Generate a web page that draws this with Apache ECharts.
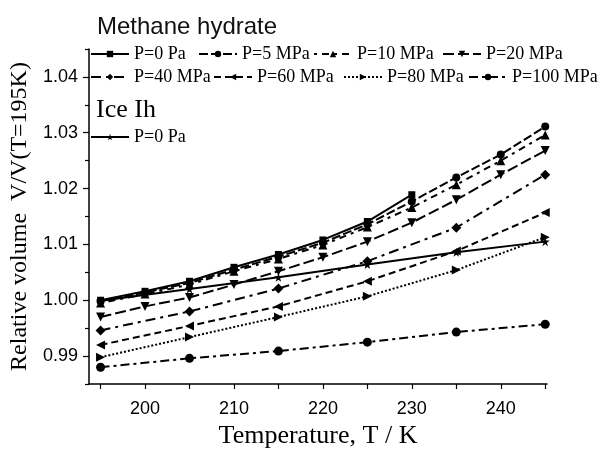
<!DOCTYPE html>
<html>
<head>
<meta charset="utf-8">
<script src="https://cdn.jsdelivr.net/npm/echarts@6/dist/echarts.min.js"></script>
<style>
html,body{margin:0;padding:0;background:#fff;}
#chart{width:605px;height:459px;}
</style>
</head>
<body>
<div id="chart"></div>
<script>
// Temperatures (K)
const temps5 = [195, 200, 205, 210, 215, 220, 225, 230, 235, 240, 245];
const temps10 = [195, 205, 215, 225, 235, 245];
const tempsP0 = [195, 200, 205, 210, 215, 220, 225, 230];

// Methane hydrate relative volume
const hydP0   = [1.0000, 1.0016, 1.0034, 1.0059, 1.0082, 1.0108, 1.0141, 1.0189];
const hydP5   = [0.9998, 1.0014, 1.0031, 1.0055, 1.0078, 1.0103, 1.0136, 1.0177, 1.0220, 1.0261, 1.0311];
const hydP10  = [0.9995, 1.0011, 1.0028, 1.0052, 1.0074, 1.0099, 1.0131, 1.0166, 1.0207, 1.0250, 1.0296];
const hydP20  = [0.9970, 0.9989, 1.0005, 1.0028, 1.0052, 1.0077, 1.0105, 1.0139, 1.0180, 1.0225, 1.0268];
const hydP40  = [0.9946, 0.9980, 1.0021, 1.0070, 1.0130, 1.0225];
const hydP60  = [0.9920, 0.9954, 0.9989, 1.0034, 1.0088, 1.0157];
const hydP80  = [0.9898, 0.9934, 0.9970, 1.0007, 1.0054, 1.0113];
const hydP100 = [0.9880, 0.9896, 0.9909, 0.9925, 0.9943, 0.9957];

// Ice Ih relative volume
const iceP0 = [0.9999, 1.0020, 1.0041, 1.0064, 1.0086, 1.0105];

// Tick labels
const xLabelTicks = [200, 210, 220, 230, 240];
const xTicks = [195, 200, 205, 210, 215, 220, 225, 230, 235, 240, 245];
const yLabelTicks = [0.99, 1.00, 1.01, 1.02, 1.03, 1.04];
const yMinorTicks = [0.985, 0.995, 1.005, 1.015, 1.025, 1.035, 1.045];

const names = ['P=0 Pa', 'P=5 MPa', 'P=10 MPa', 'P=20 MPa', 'P=40 MPa', 'P=60 MPa', 'P=80 MPa', 'P=100 MPa'];
const iceName = 'Ice Ih P=0 Pa';

const zip = (xs, ys) => xs.map((x, i) => [x, ys[i]]);

const serif = '"Liberation Serif", "Times New Roman", serif';
const sans = '"Liberation Sans", Arial, sans-serif';

function mk(name, xs, ys, symbol, size, dash) {
  return {
    name: name, type: 'line', data: zip(xs, ys),
    symbol: symbol, symbolSize: size,
    itemStyle: { color: '#000' },
    lineStyle: { color: '#000', width: 2, type: dash },
    emphasis: { disabled: true },
    z: 2
  };
}

const series = [
  mk(names[0], tempsP0, hydP0, 'rect', 7, 'solid'),
  mk(names[1], temps5, hydP5, 'circle', 8, [9, 3]),
  mk(names[2], temps5, hydP10, 'triangle', 9, [3, 5, 7, 5]),
  mk(names[3], temps5, hydP20, 'path://M0,0L10,0L5,10Z', 9, [11, 4]),
  mk(names[4], temps10, hydP40, 'diamond', 10, [10, 5, 3, 5]),
  mk(names[5], temps10, hydP60, 'path://M0,5L10,0L10,10Z', 9, [7, 4]),
  mk(names[6], temps10, hydP80, 'path://M0,0L10,5L0,10Z', 9, [2, 2]),
  mk(names[7], temps10, hydP100, 'circle', 9, [9, 4, 3, 4]),
  mk(iceName, temps10, iceP0, 'path://M5,0L6.2,3.6L10,3.6L6.9,5.9L8.1,9.5L5,7.3L1.9,9.5L3.1,5.9L0,3.6L3.8,3.6Z', 9, 'solid')
];

const legendText = { fontFamily: serif, fontSize: 18, color: '#000' };
// legend item layout: [left, top]
const legendPos = [[90, 45], [198, 45], [313, 45], [442, 45], [90, 68], [213, 68], [343, 68], [468, 68]];

const legends = names.map((n, i) => ({
  data: [n], left: legendPos[i][0], top: legendPos[i][1],
  itemWidth: 38, itemHeight: 8, itemGap: 0, textStyle: legendText,
  selectedMode: false, padding: 0
}));
legends.push({
  data: [iceName], left: 90, top: 128, itemWidth: 38, itemHeight: 8,
  textStyle: legendText, selectedMode: false, padding: 0, formatter: () => 'P=0 Pa'
});

const option = {
  backgroundColor: '#fff',
  animation: false,
  title: [
    { text: 'Methane hydrate', left: 92, top: 10, textStyle: { fontFamily: sans, fontSize: 24, fontWeight: 'normal', color: '#111' } },
    { text: 'Ice Ih', left: 91, top: 92, textStyle: { fontFamily: serif, fontSize: 26, fontWeight: 'normal', color: '#000' } }
  ],
  legend: legends,
  grid: { left: 89, right: 58, top: 49, bottom: 75 },
  xAxis: {
    type: 'value', min: 193.7, max: 245.2,
    name: 'Temperature, T / K', nameLocation: 'middle', nameGap: 38,
    nameTextStyle: { fontFamily: serif, fontSize: 26, color: '#000' },
    axisLine: { show: true, lineStyle: { color: '#000', width: 1.5 } },
    axisTick: { show: true, length: 5, inside: false, customValues: xTicks, lineStyle: { color: '#000', width: 1.2 } },
    axisLabel: { customValues: xLabelTicks, margin: 16, fontFamily: sans, fontSize: 18, color: '#000' },
    splitLine: { show: false }
  },
  yAxis: [
    {
      type: 'value', min: 0.985, max: 1.045,
      name: 'Relative volume  V/V(T=195K)', nameLocation: 'middle', nameGap: 55, nameRotate: 90,
      nameTextStyle: { fontFamily: serif, fontSize: 24, color: '#000' },
      axisLine: { show: true, lineStyle: { color: '#000', width: 1.5 } },
      axisTick: { show: true, length: 6, customValues: yLabelTicks, lineStyle: { color: '#000', width: 1.2 } },
      axisLabel: { customValues: yLabelTicks, margin: 11, fontFamily: sans, fontSize: 18, color: '#000', formatter: v => v.toFixed(2) },
      splitLine: { show: false }
    },
    {
      type: 'value', min: 0.985, max: 1.045, position: 'left',
      axisLine: { show: false },
      axisTick: { show: true, length: 4, customValues: yMinorTicks, lineStyle: { color: '#000', width: 1.2 } },
      axisLabel: { show: false },
      splitLine: { show: false }
    }
  ],
  series: series
};

const chart = echarts.init(document.getElementById('chart'), null, { renderer: 'canvas' });
chart.setOption(option);
</script>
</body>
</html>
